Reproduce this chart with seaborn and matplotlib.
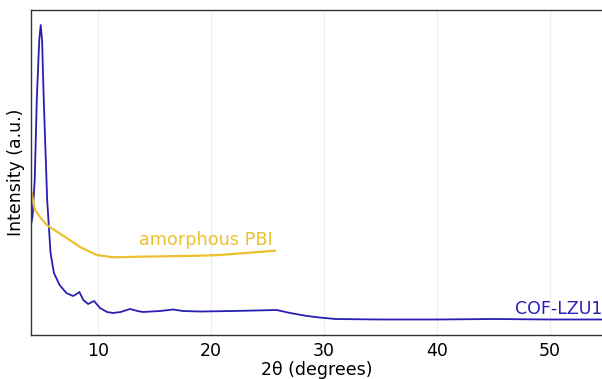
import numpy as np
import pandas as pd
import seaborn as sns
import matplotlib
matplotlib.use('Agg')
import matplotlib.pyplot as plt

# COF-LZU1 trace (2theta, intensity in arbitrary units)
cof_x = [4.07, 4.20, 4.40, 4.58, 4.80, 4.93, 5.05, 5.20, 5.50, 5.80, 6.10, 6.60,
         7.20, 7.79, 8.10, 8.35, 8.70, 9.12, 9.65, 10.18, 10.8, 11.33, 12.0, 12.83,
         13.5, 13.98, 15.5, 16.64, 17.5, 19.03, 22.0, 25.8, 27.0, 28.5, 29.6, 31.0,
         35.0, 40.0, 45.0, 50.0, 54.6]
cof_y = [110, 118, 155, 235, 295, 310, 295, 235, 135, 82, 62, 50,
         42, 39, 41, 43, 35, 31, 34, 27, 23, 22, 23, 26,
         24, 23, 24, 25.5, 24, 23.5, 24, 25, 22, 19, 17.5, 16,
         15.5, 15.5, 16, 15.5, 15.5]

# amorphous PBI trace
pbi_x = [4.04, 4.42, 4.87, 5.46, 7.23, 8.41, 9.88, 11.33, 13.72, 19.03, 20.8, 25.66]
pbi_y = [147, 125, 118, 110, 97, 88, 80, 77.7, 78.3, 79.3, 80, 84.3]

blue = '#2b1fb3'
yellow = '#ebc12e'

sns.set_style('white')
plt.rcParams['font.family'] = ['DejaVu Sans']
plt.rcParams['text.color'] = 'black'
plt.rcParams['axes.labelcolor'] = 'black'
plt.rcParams['xtick.color'] = 'black'

fig = plt.figure(figsize=(6.02, 3.79), dpi=100)
ax = fig.add_axes([31 / 602, 44 / 379, 1 - 31 / 602, 325 / 379])

sns.lineplot(x=cof_x, y=cof_y, ax=ax, color=blue, linewidth=1.3)
sns.lineplot(x=pbi_x, y=pbi_y, ax=ax, color=yellow, linewidth=1.6)

ax.set_xlim(4.07, 54.6)
ax.set_ylim(0, 325)
ax.set_yticks([])
ax.set_xticks([10, 20, 30, 40, 50])
ax.tick_params(axis='x', labelsize=12.5, length=3.5, pad=1.5, color='#444')
ax.grid(axis='x', color='#eeeeee', linewidth=1)
for s in ['left', 'bottom', 'top']:
    ax.spines[s].set_color('#333333')
    ax.spines[s].set_linewidth(1)
ax.spines['right'].set_visible(False)

ax.set_xlabel('2θ (degrees)', fontsize=12.5, labelpad=1)
ax.set_ylabel('Intensity (a.u.)', fontsize=12.5, labelpad=4)

ax.text(13.65, 95, 'amorphous PBI', color=yellow, fontsize=12.7, ha='left', va='center')
ax.text(54.6, 26, 'COF-LZU1', color=blue, fontsize=12.5, ha='right', va='center')

fig.savefig('out.png', dpi=100)
